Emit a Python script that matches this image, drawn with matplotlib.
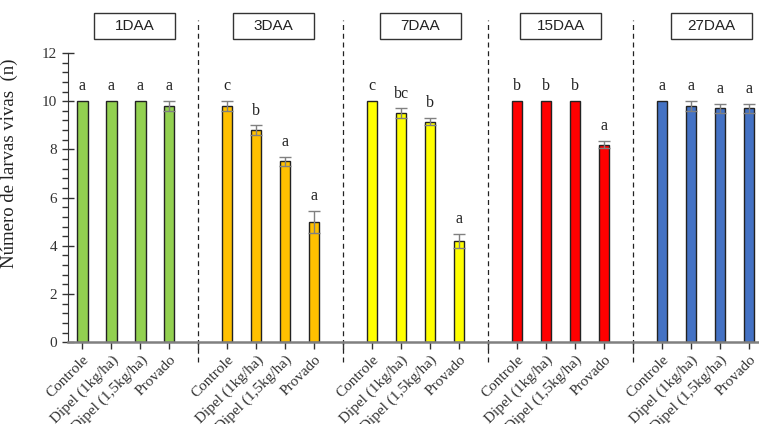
import numpy as np
import matplotlib
matplotlib.use('Agg')
import matplotlib.pyplot as plt
from matplotlib.patches import Rectangle
from matplotlib.ticker import MultipleLocator

# dados
periodos = ['1DAA', '3DAA', '7DAA', '15DAA', '27DAA']
tratamentos = ['Controle', 'Dipel (1kg/ha)', 'Dipel (1,5kg/ha)', 'Provado']
media_1daa = [10, 10, 10, 9.8]
media_3daa = [9.8, 8.8, 7.5, 5.0]
media_7daa = [10, 9.5, 9.15, 4.2]
media_15daa = [10, 10, 10, 8.2]
media_27daa = [10, 9.8, 9.7, 9.7]
erro_1daa = [0, 0, 0, 0.2]
erro_3daa = [0.2, 0.2, 0.2, 0.45]
erro_7daa = [0, 0.2, 0.15, 0.3]
erro_15daa = [0, 0, 0, 0.15]
erro_27daa = [0, 0.2, 0.2, 0.2]
letras_1daa = ['a', 'a', 'a', 'a']
letras_3daa = ['c', 'b', 'a', 'a']
letras_7daa = ['c', 'bc', 'b', 'a']
letras_15daa = ['b', 'b', 'b', 'a']
letras_27daa = ['a', 'a', 'a', 'a']
cores = ['#92D050', '#FFC000', '#FFFF00', '#FF0000', '#4472C4']

medias = [media_1daa, media_3daa, media_7daa, media_15daa, media_27daa]
erros = [erro_1daa, erro_3daa, erro_7daa, erro_15daa, erro_27daa]
letras = [letras_1daa, letras_3daa, letras_7daa, letras_15daa, letras_27daa]

serif = ['Liberation Serif', 'DejaVu Serif']

fig = plt.figure(figsize=(7.59, 4.24), dpi=100)
ax = fig.add_axes([0.0896, 0.193, 0.9104, 0.682])
ax.set_xlim(-0.5, 23.35)
ax.set_ylim(0, 12)

ticks = []
labels = []
for g in range(len(periodos)):
    pos = [g * 5 + i for i in range(4)]
    ax.bar(pos, medias[g], width=0.35, color=cores[g], edgecolor='#222222',
           linewidth=1.0, zorder=2)
    for p, m, e, l in zip(pos, medias[g], erros[g], letras[g]):
        if e > 0:
            ax.errorbar(p, m, yerr=e, color='#808080', capsize=4, elinewidth=1,
                        capthick=1, zorder=3)
        ax.text(p, m + e + 0.28, l, ha='center', va='bottom', fontsize=11.5,
                family=serif, color='#222222')
    ticks += pos
    labels += tratamentos
    if g < len(periodos) - 1:
        sep = g * 5 + 4
        ticks.append(sep)
        labels.append('')
        ax.plot([sep, sep], [-0.83, 13.36], ls=(0, (4, 3)), color='#222222',
                lw=0.9, clip_on=False, zorder=1)

# caixas com o título de cada período
desloc = [0.3, 0.1, 0.15, 0.0, 0.2]
w, h = 81 / 759, 26 / 424
yb = 1 - 39 / 424
for g in range(len(periodos)):
    xc = g * 5 + 1.5 + desloc[g]
    xf = ax.transData.transform((xc, 0))[0] / fig.bbox.width
    fig.add_artist(Rectangle((xf - w / 2, yb), w, h, transform=fig.transFigure,
                             fill=False, edgecolor='#333333', lw=1.0))
    fig.text(xf, yb + h / 2, periodos[g], ha='center', va='center', fontsize=11,
             family='Liberation Sans', color='#222222')

ax.set_xticks(ticks)
ax.set_xticklabels(labels, rotation=45, ha='right', rotation_mode='anchor',
                   family=serif, fontsize=11, color='#333333')
ax.yaxis.set_major_locator(MultipleLocator(2))
ax.yaxis.set_minor_locator(MultipleLocator(0.4))
ax.tick_params(axis='y', which='major', direction='inout', length=8, width=1,
               color='#333333', labelsize=11, pad=4)
ax.tick_params(axis='y', which='minor', direction='out', length=4, width=1,
               color='#333333')
ax.tick_params(axis='x', which='major', direction='out', length=5, width=1,
               color='#333333', pad=3)
for lab in ax.get_yticklabels():
    lab.set_family(serif)
    lab.set_color('#333333')

ax.spines['top'].set_visible(False)
ax.spines['right'].set_visible(False)
ax.spines['left'].set_color('#333333')
ax.spines['bottom'].set_color('#808080')
ax.spines['bottom'].set_linewidth(1.8)

ax.set_ylabel('Número de larvas vivas  (n)', family=serif, fontsize=13.5,
              color='#222222')
ax.yaxis.set_label_coords(-0.073, 0.62)

fig.savefig('out.png', dpi=100)
